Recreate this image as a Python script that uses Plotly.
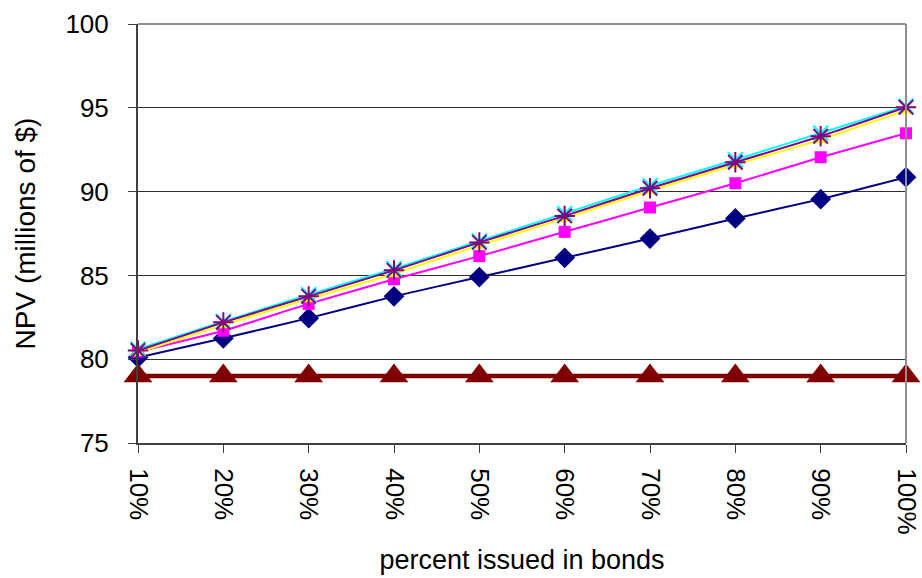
import plotly.graph_objects as go

# Share of financing issued in bonds
pct_labels = ["10%", "20%", "30%", "40%", "50%", "60%", "70%", "80%", "90%", "100%"]

# NPV in millions of dollars, one list per scenario
npv_navy = [80.1, 81.25, 82.45, 83.75, 84.9, 86.05, 87.2, 88.4, 89.55, 90.86]
npv_magenta = [80.45, 81.7, 83.3, 84.77, 86.15, 87.6, 89.05, 90.5, 92.05, 93.48]
npv_yellow = [80.4, 82.05, 83.6, 85.1, 86.8, 88.4, 90.05, 91.6, 93.1, 94.85]
npv_cyan = [80.6, 82.25, 83.85, 85.4, 87.05, 88.7, 90.35, 91.9, 93.5, 95.1]
npv_purple = [80.52, 82.2, 83.75, 85.3, 86.97, 88.55, 90.2, 91.75, 93.3, 95.03]
npv_baseline = [79.0, 79.0, 79.0, 79.0, 79.0, 79.0, 79.0, 79.0, 79.0, 79.0]

FONT = "Liberation Sans, Arial, sans-serif"

fig = go.Figure()

def add_series(values, color, symbol, size, line_width=2, open_marker=False):
    marker = dict(symbol=symbol, size=size, color=color)
    if open_marker:
        marker["line"] = dict(color=color, width=2)
    else:
        marker["line"] = dict(width=0)
    fig.add_trace(go.Scatter(
        x=pct_labels, y=values, mode="lines+markers",
        line=dict(color=color, width=line_width, shape="spline", smoothing=0.5),
        marker=marker, cliponaxis=False, showlegend=False,
    ))

add_series(npv_navy, "#000080", "diamond", 16)
add_series(npv_magenta, "#FF00FF", "square", 12)
add_series(npv_yellow, "#FFFF00", "triangle-up", 14)
add_series(npv_cyan, "#00FFFF", "x-thin-open", 15, open_marker=True)
add_series(npv_purple, "#800080", "asterisk-open", 17, open_marker=True)
add_series(npv_baseline, "#800000", "triangle-up", 25, line_width=4.5)

fig.update_layout(
    width=922, height=578,
    margin=dict(l=138, r=16, t=24, b=135),
    paper_bgcolor="white", plot_bgcolor="white",
    font=dict(family=FONT, size=26, color="black"),
    xaxis=dict(
        type="category", range=[0, 9], automargin=False,
        showgrid=False, zeroline=False,
        showline=True, linecolor="#404040", linewidth=2,
        ticks="outside", ticklen=8, tickcolor="#404040", tickwidth=1,
        tickangle=90, ticklabelstandoff=10,
        tickfont=dict(family=FONT, size=26),
        title=dict(text="percent issued in bonds", standoff=16,
                   font=dict(family=FONT, size=27)),
    ),
    yaxis=dict(
        range=[75, 100], dtick=5, automargin=False,
        showgrid=True, gridcolor="#303030", gridwidth=1,
        zeroline=False,
        showline=True, linecolor="#404040", linewidth=2,
        ticks="outside", ticklen=8, tickcolor="#404040", tickwidth=1,
        ticklabelstandoff=14,
        tickfont=dict(family=FONT, size=26),
        title=dict(text="NPV (millions of $)", standoff=22,
                   font=dict(family=FONT, size=28)),
    ),
    shapes=[
        dict(type="line", xref="paper", yref="paper", x0=0, x1=1, y0=1, y1=1,
             line=dict(color="#909090", width=2)),
        dict(type="line", xref="paper", yref="paper", x0=1, x1=1, y0=0, y1=1,
             line=dict(color="#909090", width=2)),
    ],
)

fig.write_html("out.html")
